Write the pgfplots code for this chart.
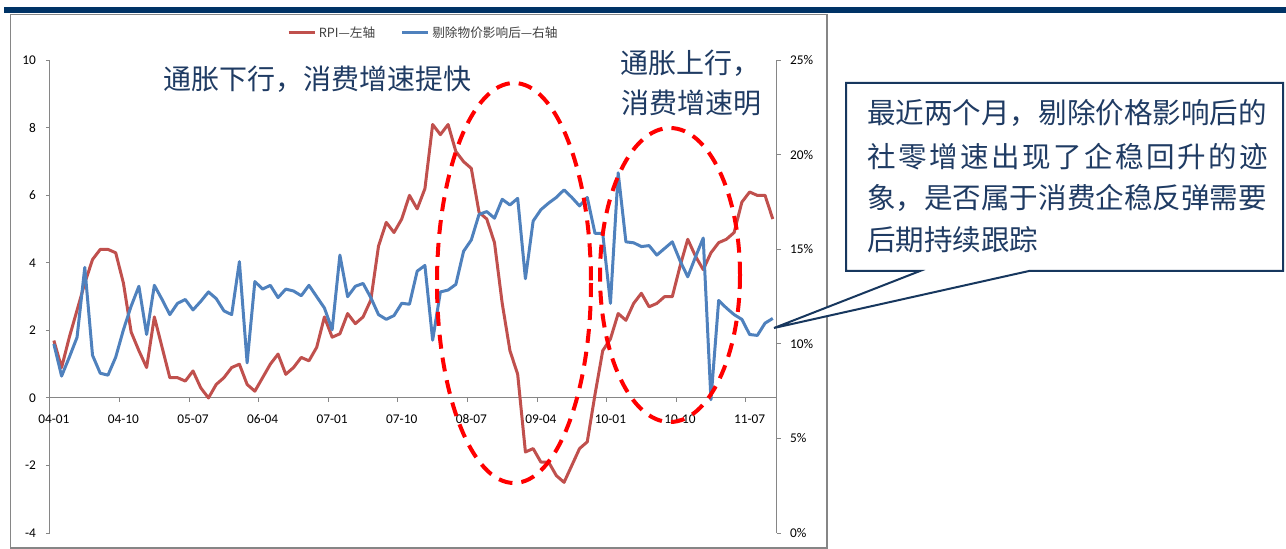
\documentclass[border=0pt]{standalone}
\usepackage{pgfplots}
\pgfplotsset{compat=1.18}
\usepackage{pgfplotstable}
\usepackage{fontspec}
\setmainfont{Carlito}
\newfontfamily\cjk{Noto Sans CJK SC}

\definecolor{rpired}{RGB}{192,80,77}
\definecolor{realblue}{RGB}{79,129,189}
\definecolor{axisgray}{RGB}{134,134,134}
\definecolor{navybar}{RGB}{0,51,102}
\definecolor{notetext}{RGB}{31,59,99}
\definecolor{boxline}{RGB}{23,55,94}
\definecolor{legtext}{RGB}{64,64,64}

% monthly data, 2004-01 ... 2011-10
% rpi: retail price index yoy (left axis); real: retail sales growth net of prices, % (right axis)
\pgfplotstableread{
idx rpi real
0 1.7 10.0
1 0.9 8.3
2 1.8 9.3
3 2.6 10.35
4 3.4 14.05
5 4.1 9.4
6 4.4 8.45
7 4.4 8.35
8 4.3 9.3
9 3.4 10.75
10 1.95 12.0
11 1.4 13.05
12 0.9 10.5
13 2.4 13.1
14 1.5 12.35
15 0.6 11.55
16 0.6 12.15
17 0.5 12.35
18 0.8 11.8
19 0.3 12.25
20 0.0 12.75
21 0.4 12.4
22 0.6 11.75
23 0.9 11.55
24 1.0 14.35
25 0.4 9.0
26 0.2 13.3
27 0.6 12.9
28 1.0 13.1
29 1.3 12.45
30 0.7 12.9
31 0.9 12.8
32 1.2 12.55
33 1.1 13.1
34 1.5 12.5
35 2.4 11.9
36 1.8 10.75
37 1.9 14.7
38 2.5 12.5
39 2.2 13.05
40 2.4 13.2
41 2.9 12.45
42 4.5 11.55
43 5.2 11.3
44 4.9 11.5
45 5.3 12.15
46 6.0 12.1
47 5.6 13.85
48 6.2 14.15
49 8.1 10.2
50 7.8 12.75
51 8.1 12.85
52 7.3 13.15
53 7.0 14.9
54 6.8 15.5
55 5.5 16.85
56 5.3 17.0
57 4.6 16.65
58 2.8 17.65
59 1.4 17.35
60 0.7 17.7
61 -1.6 13.45
62 -1.5 16.5
63 -1.9 17.1
64 -1.9 17.45
65 -2.3 17.75
66 -2.5 18.15
67 -2.0 17.75
68 -1.5 17.3
69 -1.3 17.75
70 0.1 15.85
71 1.4 15.85
72 1.75 12.15
73 2.5 19.05
74 2.3 15.4
75 2.8 15.35
76 3.1 15.15
77 2.7 15.2
78 2.8 14.7
79 3.0 15.05
80 3.0 15.4
81 3.9 14.4
82 4.7 13.55
83 4.2 14.6
84 3.8 15.6
85 4.3 7.05
86 4.6 12.3
87 4.7 11.9
88 4.9 11.55
89 5.8 11.3
90 6.1 10.5
91 6.0 10.45
92 6.0 11.1
93 5.3 11.35
}\datatable

\pgfplotsset{
  twoaxes/.style={
    at={(37.5pt,-399.75pt)}, anchor=south west,
    scale only axis, width=545pt, height=354.5pt,
    xmin=-0.5, xmax=93.5,
    axis line style={axisgray, line width=0.75pt, -},
    tick style={axisgray, line width=0.75pt},
    tick align=outside, major tick length=3pt,
    ticklabel style={font=\fontsize{10}{12}\selectfont, text=black},
    /pgf/number format/assume math mode=true,
  },
}

\begin{document}
\begin{tikzpicture}
\begin{scope}[x=0.75pt,y=-0.75pt]
  \useasboundingbox (0,0) rectangle (1286,549);
  \fill[navybar] (4,7) rectangle (1286,13);
  \draw[axisgray, line width=0.9pt] (10.5,14.5) rectangle (827,548);
\end{scope}

% left axis: RPI
\begin{axis}[twoaxes,
  ymin=-4, ymax=10, ytick={-4,-2,...,10},
  axis y line*=left, axis x line*=middle,
  hide obscured x ticks=false,
  xtick={-0.5,8.5,...,89.5},
  xticklabels={04-01,04-10,05-07,06-04,07-01,07-10,08-07,09-04,10-01,10-10,11-07},
  xticklabel style={xshift=2.9pt, yshift=-6pt},
  yticklabel style={xshift=-4pt},
  legend columns=2,
  legend style={at={(0.326,1.058)}, anchor=west, draw=none, fill=none,
    inner sep=0pt, font=\cjk\fontsize{9.5}{11}\selectfont, text=legtext,
    /tikz/every even column/.append style={column sep=17pt}},
  legend image code/.code={\draw[#1] (0pt,0pt) -- (19.5pt,0pt);},
]
\addplot[rpired, line width=2.25pt, line join=round] table[x=idx, y=rpi]{\datatable};
\addlegendentry{RPI—左轴}
\addlegendimage{realblue, line width=2.25pt}
\addlegendentry{剔除物价影响后—右轴}
\end{axis}

% right axis: real retail sales growth
\begin{axis}[twoaxes,
  ymin=0, ymax=25, ytick={0,5,...,25},
  yticklabels={0\%,5\%,10\%,15\%,20\%,25\%},
  axis x line=none, axis y line*=right,
  yticklabel style={xshift=3.5pt},
]
\addplot[realblue, line width=2.25pt, line join=round] table[x=idx, y=real]{\datatable};
\end{axis}

\begin{scope}[x=0.75pt,y=-0.75pt]
  % highlighted phases
  \draw[red, line width=3pt, dash pattern=on 10.5pt off 6.75pt] (514,283) ellipse [x radius=77, y radius=200];
  \draw[red, line width=3pt, dash pattern=on 10.5pt off 6.75pt] (670,275) ellipse [x radius=70, y radius=147];

  \node[anchor=west, inner sep=0pt, text=notetext, font=\cjk\fontsize{21}{25}\selectfont] at (163,79) {通胀下行，消费增速提快};
  \node[anchor=west, inner sep=0pt, text=notetext, font=\cjk\fontsize{21}{25}\selectfont] at (620,63) {通胀上行，};
  \node[anchor=west, inner sep=0pt, text=notetext, font=\cjk\fontsize{21}{25}\selectfont] at (621,103) {消费增速明};

  % callout
  \draw[boxline, line width=1.5pt, fill=white, line join=miter]
    (846,83) -- (1283,83) -- (1283,271) -- (1029,271) -- (774,328) -- (920,271) -- (846,271) -- cycle;
  \begin{scope}[every node/.style={anchor=west, inner sep=0pt, text=notetext, font=\cjk\fontsize{21.4}{25}\selectfont}]
    \node at (867,113) {最近两个月，剔除价格影响后的};
    \def\g{\hspace{1.85pt}}
    \node at (867,157) {社\g 零\g 增\g 速\g 出\g 现\g 了\g 企\g 稳\g 回\g 升\g 的\g 迹};
    \node at (867,198) {象，是否属于消费企稳反弹需要};
    \node at (867,240) {后期持续跟踪};
  \end{scope}
\end{scope}
\end{tikzpicture}
\end{document}
